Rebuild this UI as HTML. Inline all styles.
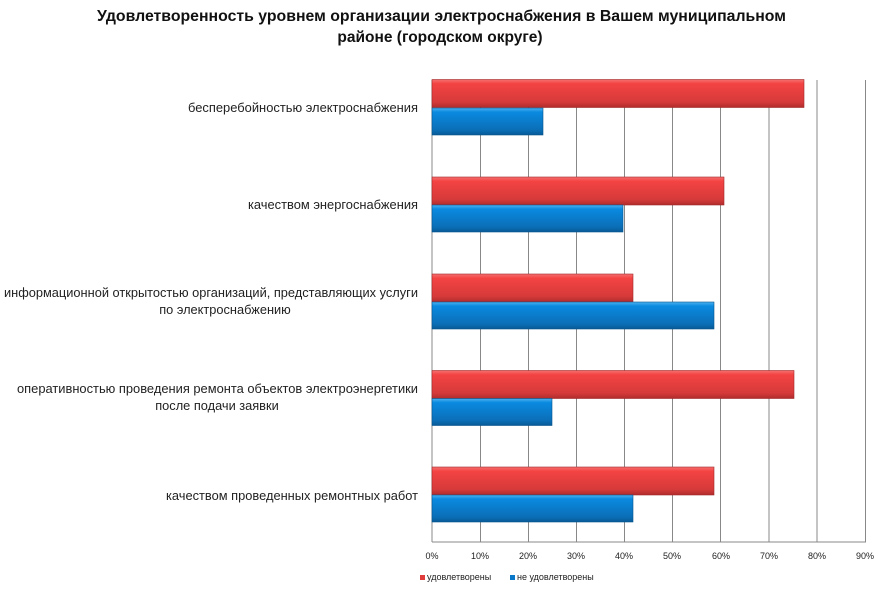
<!DOCTYPE html>
<html><head><meta charset="utf-8"><style>
body{margin:0;background:#fff;}
svg text{font-family:"Liberation Sans","DejaVu Sans",sans-serif;}
</style></head><body>
<svg width="878" height="587" xmlns="http://www.w3.org/2000/svg">
<defs>
<linearGradient id="r" x1="0" y1="0" x2="0" y2="1"><stop offset="0" stop-color="#f47070"/><stop offset="0.15" stop-color="#f44343"/><stop offset="0.8" stop-color="#d63a3a"/><stop offset="1" stop-color="#b02c2c"/></linearGradient>
<linearGradient id="b" x1="0" y1="0" x2="0" y2="1"><stop offset="0" stop-color="#4fb2f0"/><stop offset="0.15" stop-color="#0a8ae0"/><stop offset="0.8" stop-color="#0b6fb8"/><stop offset="1" stop-color="#085a96"/></linearGradient>
</defs>
<text x="97" y="21" font-size="15.5" font-weight="bold" fill="#111" textLength="689" lengthAdjust="spacingAndGlyphs">Удовлетворенность уровнем организации электроснабжения в Вашем муниципальном</text>
<text x="440" y="42" text-anchor="middle" font-size="15.5" font-weight="bold" fill="#111">районе (городском округе)</text>
<g stroke="#888" stroke-width="1">
<line x1="432" y1="80" x2="432" y2="542"/><line x1="480.5" y1="80" x2="480.5" y2="542"/><line x1="528.5" y1="80" x2="528.5" y2="542"/><line x1="576.5" y1="80" x2="576.5" y2="542"/><line x1="624.5" y1="80" x2="624.5" y2="542"/><line x1="672.5" y1="80" x2="672.5" y2="542"/><line x1="720.5" y1="80" x2="720.5" y2="542"/><line x1="769" y1="80" x2="769" y2="542"/><line x1="817" y1="80" x2="817" y2="542"/><line x1="865.5" y1="80" x2="865.5" y2="542"/>
<line x1="432" y1="542" x2="866" y2="542"/>
</g>
<g stroke-width="0.6">
<rect x="432" y="79.5" width="372" height="28" fill="url(#r)" stroke="#a02828"/>
<rect x="432" y="108" width="111" height="27" fill="url(#b)" stroke="#07548c"/>
<rect x="432" y="177" width="292" height="28" fill="url(#r)" stroke="#a02828"/>
<rect x="432" y="205" width="191" height="27" fill="url(#b)" stroke="#07548c"/>
<rect x="432" y="274" width="201" height="28" fill="url(#r)" stroke="#a02828"/>
<rect x="432" y="302" width="282" height="27" fill="url(#b)" stroke="#07548c"/>
<rect x="432" y="370.5" width="362" height="28" fill="url(#r)" stroke="#a02828"/>
<rect x="432" y="398.5" width="120" height="27" fill="url(#b)" stroke="#07548c"/>
<rect x="432" y="467" width="282" height="28" fill="url(#r)" stroke="#a02828"/>
<rect x="432" y="495" width="201" height="27" fill="url(#b)" stroke="#07548c"/>
</g>
<g font-size="12.8" fill="#222">
<text x="188" y="112" textLength="230" lengthAdjust="spacingAndGlyphs">бесперебойностью электроснабжения</text>
<text x="248" y="209" textLength="170" lengthAdjust="spacingAndGlyphs">качеством энергоснабжения</text>
<text x="4" y="297" textLength="414" lengthAdjust="spacingAndGlyphs">информационной открытостью организаций, представляющих услуги</text>
<text x="225" y="314" text-anchor="middle">по электроснабжению</text>
<text x="17" y="393" textLength="401" lengthAdjust="spacingAndGlyphs">оперативностью проведения ремонта объектов электроэнергетики</text>
<text x="217" y="410" text-anchor="middle">после подачи заявки</text>
<text x="166" y="500" textLength="252" lengthAdjust="spacingAndGlyphs">качеством проведенных ремонтных работ</text>
</g>
<g font-size="9" fill="#222" text-anchor="middle">
<text x="432" y="559">0%</text><text x="480" y="559">10%</text><text x="528" y="559">20%</text><text x="576" y="559">30%</text><text x="624" y="559">40%</text><text x="672" y="559">50%</text><text x="721" y="559">60%</text><text x="769" y="559">70%</text><text x="817" y="559">80%</text><text x="865" y="559">90%</text>
</g>
<rect x="420" y="575" width="5" height="5" fill="#e03c3c"/>
<text x="427" y="580" font-size="9" fill="#222">удовлетворены</text>
<rect x="510" y="575" width="5" height="5" fill="#0a78c8"/>
<text x="517" y="580" font-size="9" fill="#222">не удовлетворены</text>
</svg>
</body></html>
